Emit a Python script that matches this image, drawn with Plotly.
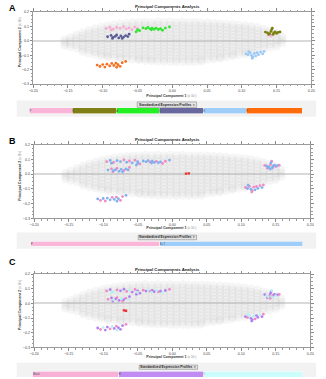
import plotly.graph_objects as go

W, H = 326, 379
def PX(x): return x / W
def PY(y): return 1 - y / H

FONT = "Liberation Sans, Arial, sans-serif"

# ---------------- data ----------------
# background gene cloud (same PCA for all panels): (x, [y values in that column])
CLOUD_COLS = [
    (-0.155, [0.008, -0.012, -0.033]),
    (-0.147, [0.022, 0.001, -0.021, -0.043]),
    (-0.138, [0.041, 0.018, -0.004, -0.027, -0.052]),
    (-0.129, [0.058, 0.035, 0.012, -0.011, -0.034, -0.057, -0.075]),
    (-0.120, [0.072, 0.050, 0.026, 0.004, -0.019, -0.041, -0.064, -0.086]),
    (-0.111, [0.085, 0.061, 0.040, 0.016, -0.007, -0.029, -0.052, -0.076, -0.095]),
    (-0.102, [0.095, 0.072, 0.049, 0.027, 0.003, -0.020, -0.043, -0.065, -0.088, -0.104]),
    (-0.093, [0.104, 0.081, 0.058, 0.036, 0.013, -0.010, -0.034, -0.056, -0.079, -0.101, -0.112]),
    (-0.084, [0.112, 0.089, 0.066, 0.044, 0.020, -0.002, -0.025, -0.048, -0.071, -0.093, -0.116]),
    (-0.075, [0.118, 0.095, 0.073, 0.050, 0.027, 0.004, -0.019, -0.042, -0.064, -0.087, -0.110, -0.121]),
    (-0.066, [0.123, 0.100, 0.077, 0.055, 0.031, 0.008, -0.015, -0.038, -0.061, -0.083, -0.106, -0.124]),
    (-0.057, [0.126, 0.103, 0.081, 0.058, 0.035, 0.011, -0.012, -0.035, -0.058, -0.081, -0.104, -0.127]),
    (-0.048, [0.128, 0.106, 0.083, 0.060, 0.037, 0.014, -0.009, -0.032, -0.055, -0.078, -0.101, -0.124, -0.132]),
    (-0.039, [0.130, 0.108, 0.085, 0.062, 0.040, 0.017, -0.006, -0.029, -0.052, -0.075, -0.098, -0.121, -0.138]),
    (-0.030, [0.127, 0.104, 0.081, 0.058, 0.035, 0.012, -0.011, -0.034, -0.057, -0.080, -0.103, -0.126, -0.140]),
    (-0.021, [0.131, 0.109, 0.086, 0.063, 0.040, 0.018, -0.005, -0.028, -0.051, -0.074, -0.097, -0.120, -0.142]),
    (-0.012, [0.128, 0.105, 0.082, 0.059, 0.036, 0.013, -0.010, -0.033, -0.056, -0.079, -0.102, -0.125, -0.143]),
    (-0.003, [0.131, 0.108, 0.085, 0.062, 0.039, 0.016, -0.007, -0.030, -0.053, -0.076, -0.099, -0.122, -0.145]),
    (0.006, [0.127, 0.104, 0.081, 0.058, 0.035, 0.012, -0.011, -0.034, -0.057, -0.080, -0.103, -0.126, -0.146]),
    (0.015, [0.130, 0.107, 0.084, 0.061, 0.038, 0.015, -0.008, -0.031, -0.054, -0.077, -0.100, -0.123, -0.145]),
    (0.024, [0.126, 0.103, 0.080, 0.057, 0.034, 0.011, -0.012, -0.035, -0.058, -0.081, -0.104, -0.127, -0.146]),
    (0.033, [0.128, 0.105, 0.082, 0.059, 0.036, 0.013, -0.010, -0.033, -0.056, -0.079, -0.102, -0.125, -0.144]),
    (0.042, [0.125, 0.102, 0.079, 0.056, 0.033, 0.010, -0.013, -0.036, -0.059, -0.082, -0.105, -0.128, -0.142]),
    (0.051, [0.124, 0.101, 0.078, 0.055, 0.032, 0.009, -0.014, -0.037, -0.060, -0.083, -0.106, -0.129]),
    (0.060, [0.122, 0.099, 0.076, 0.053, 0.030, 0.007, -0.016, -0.039, -0.062, -0.085, -0.108, -0.126]),
    (0.069, [0.120, 0.097, 0.074, 0.051, 0.028, 0.005, -0.018, -0.041, -0.064, -0.087, -0.110, -0.121]),
    (0.078, [0.117, 0.094, 0.071, 0.048, 0.025, 0.002, -0.021, -0.044, -0.067, -0.090, -0.112]),
    (0.087, [0.114, 0.091, 0.068, 0.045, 0.022, -0.001, -0.024, -0.047, -0.070, -0.093, -0.106]),
    (0.096, [0.110, 0.087, 0.064, 0.041, 0.018, -0.005, -0.028, -0.051, -0.074, -0.097]),
    (0.105, [0.106, 0.083, 0.060, 0.037, 0.014, -0.009, -0.032, -0.055, -0.078, -0.091]),
    (0.114, [0.100, 0.077, 0.054, 0.031, 0.008, -0.015, -0.038, -0.061, -0.082]),
    (0.123, [0.092, 0.069, 0.046, 0.023, 0.000, -0.023, -0.046, -0.069]),
    (0.132, [0.082, 0.059, 0.036, 0.013, -0.010, -0.033, -0.056]),
    (0.141, [0.070, 0.047, 0.024, 0.001, -0.022, -0.045]),
    (0.150, [0.052, 0.029, 0.006, -0.017, -0.037]),
    (0.158, [0.030, 0.008, -0.014]),
]
cloud_x = [cx for cx, ys in CLOUD_COLS for _ in ys]
cloud_y = [y for cx, ys in CLOUD_COLS for y in ys]

# highlighted sample clusters (panel A grouping)
pink_x = [-0.095, -0.090, -0.085, -0.080, -0.075, -0.070, -0.066, -0.062, -0.058, -0.054, -0.050, -0.088, 0.138, 0.142, 0.145]
pink_y = [0.085, 0.094, 0.080, 0.092, 0.086, 0.097, 0.082, 0.090, 0.077, 0.095, 0.086, 0.075, 0.040, 0.035, 0.042]
green_x = [-0.052, -0.050, -0.047, -0.042, -0.038, -0.035, -0.032, -0.029, -0.026, -0.023, -0.020, -0.017, -0.014, -0.010, -0.004, -0.030]
green_y = [0.062, 0.075, 0.070, 0.090, 0.084, 0.092, 0.083, 0.088, 0.080, 0.087, 0.078, 0.084, 0.073, 0.088, 0.096, 0.076]
slate_x = [-0.093, -0.088, -0.085, -0.082, -0.080, -0.077, -0.074, -0.070, -0.067, -0.064, -0.062, -0.072, -0.086]
slate_y = [0.028, 0.037, 0.024, 0.031, 0.040, 0.020, 0.033, 0.026, 0.036, 0.029, 0.046, 0.016, 0.016]
orange_x = [-0.108, -0.104, -0.100, -0.097, -0.094, -0.090, -0.087, -0.084, -0.081, -0.078, -0.080, -0.072, -0.067, -0.075]
orange_y = [-0.168, -0.178, -0.165, -0.182, -0.162, -0.174, -0.157, -0.171, -0.155, -0.166, -0.183, -0.152, -0.143, -0.177]
olive_x = [0.134, 0.137, 0.140, 0.142, 0.143, 0.144, 0.146, 0.148, 0.150, 0.152, 0.155, 0.139, 0.145]
olive_y = [0.060, 0.055, 0.050, 0.065, 0.078, 0.088, 0.055, 0.062, 0.051, 0.058, 0.061, 0.045, 0.045]
lblue_x = [0.106, 0.109, 0.112, 0.114, 0.116, 0.118, 0.120, 0.122, 0.124, 0.127, 0.130, 0.132, 0.115, 0.110]
lblue_y = [-0.090, -0.097, -0.083, -0.102, -0.112, -0.088, -0.106, -0.083, -0.096, -0.078, -0.091, -0.073, -0.121, -0.075]

A_groups = ["P", "B", "A", "D", "E", "F"]
A_colors = ["#f9b6d8", "#7f7f16", "#22f022", "#68689e", "#9fcdfa", "#ff6a0a"]
A_point_colors = ["#f6acd2", "#7a8010", "#2ee52e", "#5a5a96", "#99c8f7", "#f57020"]
A_sizes = [7, 7, 7, 7, 7, 9]

clusters_x = [pink_x, green_x, slate_x, orange_x, olive_x, lblue_x]
clusters_y = [pink_y, green_y, slate_y, orange_y, olive_y, lblue_y]
A_cluster_group = [0, 2, 3, 5, 1, 4]

# panel B: two groups
B_groups = ["P", "B+T"]
B_colors = ["#f9b6d8", "#9fcdfa"]
B_point_colors = ["#f08cc4", "#7fb0f0"]
B_sizes = [20, 22]
B_assign = [
    [0, 1, 0, 1, 1, 0, 1, 0, 1, 0, 1, 1, 0, 1, 0],
    [1, 1, 0, 1, 1, 1, 0, 1, 1, 0, 1, 1, 0, 0, 1, 1],
    [1, 0, 1, 1, 0, 1, 1, 0, 1, 1, 0, 1, 0],
    [1, 0, 1, 0, 1, 1, 0, 1, 0, 1, 1, 0, 1, 0],
    [0, 1, 1, 0, 1, 0, 1, 1, 0, 1, 0, 1, 1],
    [0, 1, 0, 1, 0, 0, 1, 0, 1, 0, 1, 0, 0, 1],
]
B_red_x = [0.020, 0.024]
B_red_y = [0.004, 0.006]

# panel C: three groups
C_groups = ["Mock", "H", "I"]
C_colors = ["#f7b0d6", "#c08cf2", "#cdfcfc"]
C_point_colors = ["#f08cc4", "#b080f2", "#b8f0f0"]
C_sizes = [13, 13, 15]
C_assign = [
    [0, 1, 2, 0, 1, 1, 0, 2, 1, 0, 1, 2, 1, 0, 2],
    [1, 2, 1, 0, 1, 2, 0, 1, 1, 2, 0, 1, 2, 1, 0, 2],
    [0, 1, 2, 1, 0, 1, 2, 1, 0, 2, 1, 0, 1],
    [1, 0, 2, 1, 1, 0, 2, 1, 0, 1, 2, 1, 0, 1],
    [1, 2, 0, 1, 1, 2, 0, 1, 2, 1, 0, 2, 1],
    [1, 0, 2, 1, 1, 2, 0, 1, 1, 2, 1, 0, 1, 2],
]
C_red_x = [-0.070, -0.067]
C_red_y = [-0.048, -0.050]

x_ticks = [-0.20, -0.15, -0.10, -0.05, 0.00, 0.05, 0.10, 0.15, 0.20]
y_ticks = [-0.3, -0.2, -0.1, 0.0, 0.1, 0.2]

# ---------------- layout geometry (pixels) ----------------
panels = [
    dict(letter="A", plot=(29, 315, 10, 83), title_y=5, letter_y=6.5, xt_y=95,
         band=(12, 320, 99.5, 116), dd=(136, 197, 101, 106.5), bars=(25.3, 306, 107, 113)),
    dict(letter="B", plot=(30, 314, 144.3, 218.7), title_y=139, letter_y=140, xt_y=228.7,
         band=(12, 320, 233, 249.5), dd=(137, 197, 235.7, 240.3), bars=(26.7, 306, 242, 247.3)),
    dict(letter="C", plot=(30, 314, 275, 349), title_y=270, letter_y=263, xt_y=359,
         band=(12, 320, 364.5, 379), dd=(138, 198, 367, 371.2), bars=(28.7, 306, 373.3, 379)),
]

fig = go.Figure()
layout = dict(
    width=W, height=H, margin=dict(l=0, r=0, t=0, b=0),
    paper_bgcolor="white", plot_bgcolor="white", showlegend=False,
    barmode="stack", bargap=0, font=dict(family=FONT, size=4, color="#333"),
)
annotations, shapes = [], []

panel_defs = [
    (A_point_colors, [[A_cluster_group[k]] * len(clusters_x[k]) for k in range(6)], None, None,
     A_groups, A_colors, A_sizes),
    (B_point_colors, B_assign, B_red_x, B_red_y, B_groups, B_colors, B_sizes),
    (C_point_colors, C_assign, C_red_x, C_red_y, C_groups, C_colors, C_sizes),
]

for i, (pan, pdef) in enumerate(zip(panels, panel_defs)):
    pcolors, assign, rx, ry, gnames, gcolors, gsizes = pdef
    n = i + 1
    xa, ya = f"x{n}", f"y{n}"
    x0, x1, y0, y1 = pan["plot"]
    layout[f"xaxis{n}"] = dict(
        domain=[PX(x0), PX(x1)], range=[-0.2, 0.2], anchor=ya,
        tickvals=x_ticks, tickformat=".2f", ticks="outside", ticklen=2.5, tickwidth=0.6,
        tickcolor="#888", minor=dict(ticks="outside", dtick=0.01, ticklen=1.2, tickcolor="#999"),
        showline=True, linecolor="#9a9a9a", linewidth=1, mirror="ticks",
        showgrid=False, zeroline=False, tickfont=dict(size=3.6, color="#444"), fixedrange=True)
    layout[f"yaxis{n}"] = dict(
        domain=[PY(y1), PY(y0)], range=[-0.3, 0.2], anchor=xa,
        tickvals=y_ticks, tickformat=".1f", ticks="outside", ticklen=2.5, tickwidth=0.6,
        tickcolor="#888", minor=dict(ticks="outside", dtick=0.025, ticklen=1.2, tickcolor="#999"),
        showline=True, linecolor="#9a9a9a", linewidth=1, mirror="ticks",
        showgrid=False, zeroline=True, zerolinecolor="#d9d9d9", zerolinewidth=2,
        tickfont=dict(size=3.6, color="#444"), fixedrange=True)

    # background cloud (soft overlapping markers)
    fig.add_trace(go.Scatter(x=cloud_x, y=cloud_y, mode="markers", xaxis=xa, yaxis=ya,
                             marker=dict(size=8.5, color="rgba(175,175,175,0.11)", line=dict(width=0)),
                             hoverinfo="skip"))
    # clusters
    for g in range(len(gnames)):
        gx, gy = [], []
        for k in range(6):
            for j in range(len(clusters_x[k])):
                if assign[k][j] == g:
                    gx.append(clusters_x[k][j]); gy.append(clusters_y[k][j])
        fig.add_trace(go.Scatter(x=gx, y=gy, mode="markers", xaxis=xa, yaxis=ya,
                                 marker=dict(size=2.8, color=pcolors[g], line=dict(width=0))))
    if rx:
        fig.add_trace(go.Scatter(x=rx, y=ry, mode="markers", xaxis=xa, yaxis=ya,
                                 marker=dict(size=2.4, symbol="square", color="#ee3030")))

    # legend bars
    bn = n + 3
    bx0, bx1, by0, by1 = pan["bars"]
    layout[f"xaxis{bn}"] = dict(domain=[PX(bx0), PX(bx1)], range=[0, sum(gsizes)], visible=False,
                                anchor=f"y{bn}", fixedrange=True)
    layout[f"yaxis{bn}"] = dict(domain=[max(PY(by1), 0), PY(by0)], range=[-0.5, 0.5], visible=False,
                                anchor=f"x{bn}", fixedrange=True)
    for g in range(len(gnames)):
        fig.add_trace(go.Bar(x=[gsizes[g]], y=[0], orientation="h", xaxis=f"x{bn}", yaxis=f"y{bn}",
                             marker=dict(color=gcolors[g], line=dict(color="white", width=0.6)),
                             text=[gnames[g]], textposition="inside", insidetextanchor="start",
                             textfont=dict(size=3, color="#555"), width=1))

    # decorations: band + dropdown
    b0, b1, b2, b3 = pan["band"]
    shapes.append(dict(type="rect", xref="paper", yref="paper", x0=PX(b0), x1=PX(b1),
                       y0=PY(b3), y1=PY(b2), fillcolor="#f2f2f2", line=dict(width=0), layer="below"))
    d0, d1, d2, d3 = pan["dd"]
    shapes.append(dict(type="rect", xref="paper", yref="paper", x0=PX(d0), x1=PX(d1),
                       y0=PY(d3), y1=PY(d2), fillcolor="#e4e4e4", line=dict(color="#8a8a8a", width=0.6)))
    annotations.append(dict(x=PX((d0 + d1) / 2), y=PY((d2 + d3) / 2), xref="paper", yref="paper",
                            text="<b>Standardized Expression Profiles</b>  ▾", showarrow=False,
                            font=dict(size=3.3, color="#222"), xanchor="center", yanchor="middle"))

    # titles
    annotations.append(dict(x=PX(2), y=PY(pan["letter_y"]), xref="paper", yref="paper",
                            text=f"<b>{pan['letter']}</b>", showarrow=False, xanchor="left",
                            yanchor="middle", font=dict(size=9, color="#000")))
    annotations.append(dict(x=PX(167), y=PY(pan["title_y"]), xref="paper", yref="paper",
                            text="<b>Principal Components Analysis</b>", showarrow=False,
                            xanchor="center", yanchor="middle", font=dict(size=4.3, color="#222")))
    annotations.append(dict(x=PX(170), y=PY(pan["xt_y"]), xref="paper", yref="paper",
                            text="<span style='color:#bbb'>▫</span> <b>Principal Component 1</b>"
                                 " <span style='color:#888;font-size:3px'>(x 10²)</span>",
                            showarrow=False, xanchor="center", yanchor="middle",
                            font=dict(size=3.7, color="#333")))
    annotations.append(dict(x=PX(15), y=PY((y0 + y1) / 2 - 4), xref="paper", yref="paper",
                            text="<span style='color:#bbb'>▫</span> <b>Principal Component 2</b>"
                                 " <span style='color:#888;font-size:3px'>(x 10²)</span>",
                            textangle=-90, showarrow=False, xanchor="center", yanchor="middle",
                            font=dict(size=3.7, color="#333")))

layout["annotations"] = annotations
layout["shapes"] = shapes
fig.update_layout(**layout)
fig.write_html("out.html")
